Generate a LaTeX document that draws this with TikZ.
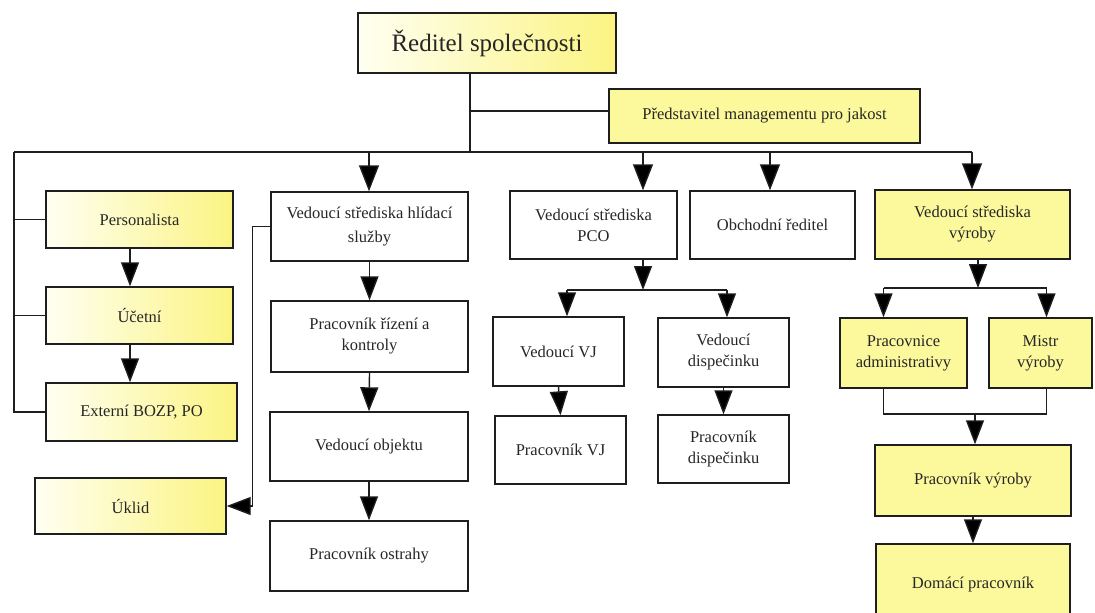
\documentclass[tikz,border=0pt]{standalone}
\usepackage{fontspec}
\setmainfont{LiberationSerif}[Extension=.ttf, UprightFont=*-Regular, BoldFont=*-Bold, ItalicFont=*-Italic, BoldItalicFont=*-BoldItalic]
\usetikzlibrary{arrows.meta}
\definecolor{linec}{HTML}{1E1E1E}
\definecolor{textc}{HTML}{262626}
\definecolor{flatyel}{HTML}{FCF99C}
\definecolor{gradL}{HTML}{FFFFF2}
\definecolor{gradR}{HTML}{FBF482}
\tikzset{
  box/.style={draw=linec, line width=1.4pt, text=textc, align=center, inner sep=2pt,
    font=\fontsize{16.5}{21}\selectfont},
  plainbox/.style={box, fill=white},
  flatbox/.style={box, fill=flatyel},
  gradbox/.style={box, left color=gradL, right color=gradR},
  conn/.style={draw=linec, line width=1.4pt},
  arr/.style={conn, -{Triangle[length=24pt,width=18pt,fill=black]}},
  arrbig/.style={conn, -{Triangle[length=26pt,width=20pt,fill=black]}}
}
\begin{document}
\begin{tikzpicture}[x=1pt,y=-1pt]
\useasboundingbox (0,0) rectangle (1095,613);
\clip (0,0) rectangle (1095,613);
\fill[white] (0,0) rectangle (1095,613);

% top level
\node[gradbox, minimum width=258pt, minimum height=60pt, font=\fontsize{25}{28}\selectfont] (top) at (487,43) {Ředitel společnosti};
\node[flatbox, minimum width=311pt, minimum height=54pt] (qual) at (764.5,116) {Představitel managementu pro jakost};

% left staff column
\node[gradbox, minimum width=187pt, minimum height=57pt] (pers) at (139.5,219.5) {Personalista};
\node[gradbox, minimum width=187pt, minimum height=57pt] (ucet) at (139.5,315.5) {Účetní};
\node[gradbox, minimum width=191pt, minimum height=58pt] (ext) at (141.5,412) {Externí BOZP, PO};
\node[gradbox, minimum width=191pt, minimum height=56pt] (uklid) at (130.5,506) {Úklid};

% guard service
\node[plainbox, minimum width=197pt, minimum height=69pt] (hlid) at (369.5,226.5) {Vedoucí střediska hlídací\\[3pt] služby};
\node[plainbox, minimum width=197pt, minimum height=71pt] (rizeni) at (369.5,336.5) {Pracovník řízení a\\ kontroly};
\node[plainbox, minimum width=198pt, minimum height=69pt] (objekt) at (369,446.5) {Vedoucí objektu};
\node[plainbox, minimum width=198pt, minimum height=70pt] (ostraha) at (369,556) {Pracovník ostrahy};

% PCO centre
\node[plainbox, minimum width=167pt, minimum height=68pt] (pco) at (593.5,225) {Vedoucí střediska\\ PCO};
\node[plainbox, minimum width=131pt, minimum height=69pt] (vj) at (558.5,351.5) {Vedoucí VJ};
\node[plainbox, minimum width=131pt, minimum height=69pt] (disp) at (723.5,352.5) {Vedoucí\\ dispečinku};
\node[plainbox, minimum width=131pt, minimum height=68pt] (pvj) at (560.5,450) {Pracovník VJ};
\node[plainbox, minimum width=131pt, minimum height=68pt] (pdisp) at (723.5,449) {Pracovník\\ dispečinku};

% sales
\node[plainbox, minimum width=165pt, minimum height=68pt] (obch) at (772.5,225) {Obchodní ředitel};

% production
\node[flatbox, minimum width=195pt, minimum height=69pt] (vyr) at (972.5,224.5) {Vedoucí střediska\\ výroby};
\node[flatbox, minimum width=127pt, minimum height=70pt] (admin) at (903.5,353) {Pracovnice\\ administrativy};
\node[flatbox, minimum width=103pt, minimum height=70pt] (mistr) at (1040.5,353) {Mistr\\ výroby};
\node[flatbox, minimum width=196pt, minimum height=71pt] (pvyr) at (973,480.5) {Pracovník výroby};
\node[flatbox, minimum width=194pt, minimum height=81pt] (dom) at (973,584.5) {Domácí pracovník};

% main distribution lines
\coordinate (trunk) at (470,152);
\coordinate (busL) at (14,152);
\coordinate (busR) at (972,152);
\coordinate (qb) at (470,111);
\draw[conn] (trunk |- top.south) -- (trunk);
\draw[conn] (qb) -- (qb -| qual.west);
\draw[conn] (busL) -- (busR);

% arrows from the main line
\coordinate (inHlid) at (369,152);
\coordinate (inPco) at (643,152);
\coordinate (inObch) at (770,152);
\draw[arrbig] (inHlid) -- (inHlid |- hlid.north);
\draw[arrbig] (inPco) -- (inPco |- pco.north);
\draw[arrbig] (inObch) -- (inObch |- obch.north);
\draw[arrbig] (busR) -- (busR |- vyr.north);

% staff column
\draw[conn] (busL) |- (ext.west);
\draw[conn] (busL |- pers.west) -- (pers.west);
\draw[conn] (busL |- ucet.west) -- (ucet.west);
\coordinate (lc) at (130,0);
\draw[arr] (pers.south -| lc) -- (ucet.north -| lc);
\draw[arr] (ucet.south -| lc) -- (ext.north -| lc);

% guard service chain
\draw[arr] (hlid.south) -- (rizeni.north);
\draw[arr] (rizeni.south) -- (objekt.north);
\draw[arr] (objekt.south) -- (ostraha.north);
\draw[arr] (hlid.west) -- ++(-18,0) |- (uklid.east);

% PCO fork
\coordinate (pfork) at (643,290);
\coordinate (pforkL) at (567,290);
\coordinate (pforkR) at (727,290);
\draw[arr] (pfork |- pco.south) -- (pfork);
\draw[conn] (pforkL) -- (pforkR);
\draw[arr] (pforkL) -- (pforkL |- vj.north);
\draw[arr] (pforkR) -- (pforkR |- disp.north);
\draw[arr] (vj.south) -- (pvj.north);
\draw[arr] (disp.south) -- (pdisp.north);

% production fork
\coordinate (vfork) at (978,288);
\coordinate (vforkL) at (883.5,288);
\coordinate (vforkR) at (1046.5,288);
\draw[arr] (vfork |- vyr.south) -- (vfork);
\draw[conn] (vforkL) -- (vforkR);
\draw[arr] (vforkL) -- (vforkL |- admin.north);
\draw[arr] (vforkR) -- (vforkR |- mistr.north);
\coordinate (jL) at (883.5,414);
\coordinate (jR) at (1046.5,414);
\coordinate (jM) at (975,414);
\draw[conn] (jL |- admin.south) -- (jL) -- (jR) -- (jR |- mistr.south);
\draw[arr] (jM) -- (jM |- pvyr.north);
\draw[arr] (pvyr.south) -- (dom.north);
\end{tikzpicture}
\end{document}
